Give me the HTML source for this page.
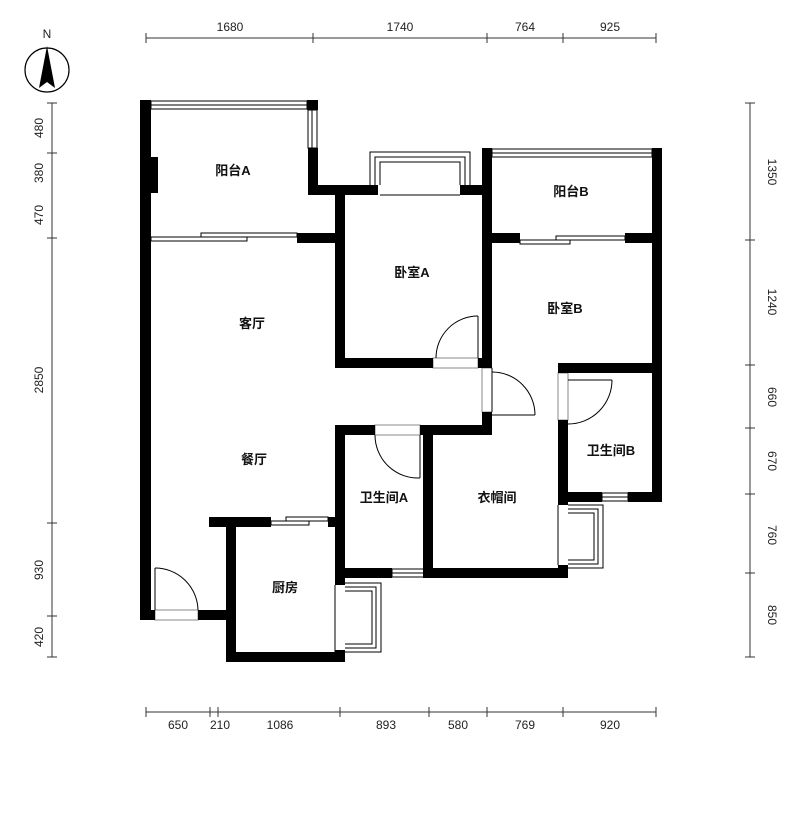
<!DOCTYPE html>
<html><head><meta charset="utf-8"><style>
html,body{margin:0;padding:0;background:#fff;}
svg{display:block;}
text{font-family:"Liberation Sans","Noto Sans CJK SC",sans-serif;}
.d{font-size:12px;fill:#222;}
.r{font-size:13px;fill:#111;font-weight:bold;}
</style></head><body>
<svg width="800" height="813" viewBox="0 0 800 813" xmlns="http://www.w3.org/2000/svg">
<!-- compass -->
<circle cx="47" cy="70" r="22" fill="none" stroke="#000" stroke-width="1.2"/>
<polygon points="47,46 39,88 47,82 55,88" fill="#000"/>
<text x="47" y="38" class="d" text-anchor="middle" font-size="13">N</text>

<!-- dimension lines -->
<g stroke="#333" stroke-width="1">
<line x1="146" y1="38" x2="656" y2="38"/>
<line x1="146" y1="33" x2="146" y2="43"/><line x1="313" y1="33" x2="313" y2="43"/><line x1="487" y1="33" x2="487" y2="43"/><line x1="563" y1="33" x2="563" y2="43"/><line x1="656" y1="33" x2="656" y2="43"/>
<line x1="146" y1="712" x2="656" y2="712"/>
<line x1="146" y1="707" x2="146" y2="717"/><line x1="210" y1="707" x2="210" y2="717"/><line x1="218" y1="707" x2="218" y2="717"/><line x1="340" y1="707" x2="340" y2="717"/><line x1="429" y1="707" x2="429" y2="717"/><line x1="487" y1="707" x2="487" y2="717"/><line x1="563" y1="707" x2="563" y2="717"/><line x1="656" y1="707" x2="656" y2="717"/>
<line x1="52" y1="103" x2="52" y2="657"/>
<line x1="47" y1="103" x2="57" y2="103"/><line x1="47" y1="153" x2="57" y2="153"/><line x1="47" y1="238" x2="57" y2="238"/><line x1="47" y1="523" x2="57" y2="523"/><line x1="47" y1="616" x2="57" y2="616"/><line x1="47" y1="657" x2="57" y2="657"/>
<line x1="750" y1="103" x2="750" y2="657"/>
<line x1="745" y1="103" x2="755" y2="103"/><line x1="745" y1="240" x2="755" y2="240"/><line x1="745" y1="365" x2="755" y2="365"/><line x1="745" y1="428" x2="755" y2="428"/><line x1="745" y1="494" x2="755" y2="494"/><line x1="745" y1="573" x2="755" y2="573"/><line x1="745" y1="657" x2="755" y2="657"/>
</g>
<g class="d" text-anchor="middle">
<text x="230" y="31">1680</text><text x="400" y="31">1740</text><text x="525" y="31">764</text><text x="610" y="31">925</text>
<text x="178" y="729">650</text><text x="220" y="729">210</text><text x="280" y="729">1086</text><text x="386" y="729">893</text><text x="458" y="729">580</text><text x="525" y="729">769</text><text x="610" y="729">920</text>
<text transform="translate(43,128) rotate(-90)">480</text>
<text transform="translate(43,173) rotate(-90)">380</text>
<text transform="translate(43,215) rotate(-90)">470</text>
<text transform="translate(43,380) rotate(-90)">2850</text>
<text transform="translate(43,570) rotate(-90)">930</text>
<text transform="translate(43,637) rotate(-90)">420</text>
<text transform="translate(768,172) rotate(90)">1350</text>
<text transform="translate(768,302) rotate(90)">1240</text>
<text transform="translate(768,397) rotate(90)">660</text>
<text transform="translate(768,461) rotate(90)">670</text>
<text transform="translate(768,535) rotate(90)">760</text>
<text transform="translate(768,615) rotate(90)">850</text>
</g>

<!-- windows / thin lines -->
<g fill="#fff" stroke="#000" stroke-width="1">
<rect x="151" y="101" width="156" height="4"/><rect x="151" y="105" width="156" height="4"/>
<rect x="308" y="110" width="4" height="38"/><rect x="312" y="110" width="5" height="38"/>
<path d="M370,185 V152 H470 V185" fill="none"/><path d="M375,185 V157 H465 V185" fill="none"/><path d="M380,185 V162 H460 V185" fill="none"/>
<line x1="380" y1="195" x2="460" y2="195"/>
<rect x="492" y="149" width="160" height="4"/><rect x="492" y="153" width="160" height="4"/>
<rect x="151" y="237" width="96" height="4"/><rect x="201" y="233" width="96" height="4"/>
<rect x="520" y="240" width="50" height="4"/><rect x="556" y="236" width="69" height="4"/>
<rect x="271" y="521" width="38" height="4"/><rect x="286" y="517" width="42" height="4"/>
<rect x="392" y="569" width="33" height="4"/><rect x="392" y="573" width="33" height="4"/>
<rect x="602" y="493" width="26" height="4"/><rect x="602" y="497" width="26" height="4"/>
<path d="M568,505 H603 V568 H568" fill="none"/><path d="M568,509 H598 V564 H568" fill="none"/><path d="M568,513 H594 V560 H568" fill="none"/>
<path d="M345,583 H381 V652 H345" fill="none"/><path d="M345,587 H376 V648 H345" fill="none"/><path d="M345,591 H372 V644 H345" fill="none"/>
<line x1="335" y1="585" x2="335" y2="652"/>
<line x1="558" y1="505" x2="558" y2="565"/>
</g>

<!-- doors -->
<g fill="none" stroke="#000" stroke-width="1">
<rect x="433" y="358" width="45" height="10" stroke="#888"/>
<line x1="478" y1="358" x2="478" y2="316"/><path d="M478,316 A42,42 0 0 0 436,358"/>
<rect x="482" y="368" width="10" height="44" stroke="#888"/>
<line x1="492" y1="368" x2="492" y2="412"/><line x1="492" y1="415" x2="535" y2="415"/><path d="M492,372 A43,43 0 0 1 535,415"/>
<rect x="375" y="425" width="45" height="10" stroke="#888"/>
<line x1="420" y1="435" x2="420" y2="478"/><path d="M375,435 A43,43 0 0 0 420,478"/>
<rect x="558" y="373" width="10" height="47" stroke="#888"/>
<line x1="568" y1="380" x2="612" y2="380"/><path d="M612,380 A44,44 0 0 1 568,424"/>
<rect x="155" y="610" width="43" height="10" stroke="#888"/>
<line x1="155" y1="610" x2="155" y2="568"/><path d="M155,568 A43,43 0 0 1 198,610"/>
</g>

<!-- walls -->
<g fill="#000">
<rect x="140" y="100" width="11" height="520"/>
<rect x="140" y="157" width="18" height="36"/>
<rect x="307" y="100" width="11" height="10"/>
<rect x="308" y="148" width="10" height="47"/>
<rect x="308" y="185" width="70" height="10"/>
<rect x="460" y="185" width="32" height="10"/>
<rect x="297" y="233" width="48" height="10"/>
<rect x="335" y="185" width="10" height="183"/>
<rect x="335" y="358" width="98" height="10"/>
<rect x="478" y="358" width="14" height="10"/>
<rect x="482" y="148" width="10" height="220"/>
<rect x="652" y="148" width="10" height="354"/>
<rect x="492" y="233" width="28" height="10"/>
<rect x="625" y="233" width="37" height="10"/>
<rect x="482" y="412" width="10" height="23"/>
<rect x="335" y="425" width="40" height="10"/>
<rect x="420" y="425" width="72" height="10"/>
<rect x="335" y="425" width="10" height="160"/>
<rect x="423" y="425" width="10" height="153"/>
<rect x="335" y="568" width="57" height="10"/>
<rect x="425" y="568" width="143" height="10"/>
<rect x="558" y="363" width="104" height="10"/>
<rect x="558" y="363" width="10" height="10"/>
<rect x="558" y="420" width="10" height="85"/>
<rect x="558" y="565" width="10" height="13"/>
<rect x="568" y="492" width="34" height="10"/>
<rect x="628" y="492" width="34" height="10"/>
<rect x="209" y="517" width="62" height="10"/>
<rect x="328" y="517" width="17" height="10"/>
<rect x="226" y="517" width="10" height="145"/>
<rect x="226" y="652" width="119" height="10"/>
<rect x="335" y="650" width="10" height="12"/>
<rect x="140" y="610" width="15" height="10"/>
<rect x="198" y="610" width="38" height="10"/>
</g>

<!-- room labels -->
<g class="r" text-anchor="middle">
<text x="233" y="175">阳台A</text>
<text x="412" y="277">卧室A</text>
<text x="252" y="328">客厅</text>
<text x="254" y="464">餐厅</text>
<text x="571" y="196">阳台B</text>
<text x="565" y="313">卧室B</text>
<text x="384" y="502">卫生间A</text>
<text x="497" y="502">衣帽间</text>
<text x="611" y="455">卫生间B</text>
<text x="285" y="592">厨房</text>
</g>
</svg>
</body></html>
